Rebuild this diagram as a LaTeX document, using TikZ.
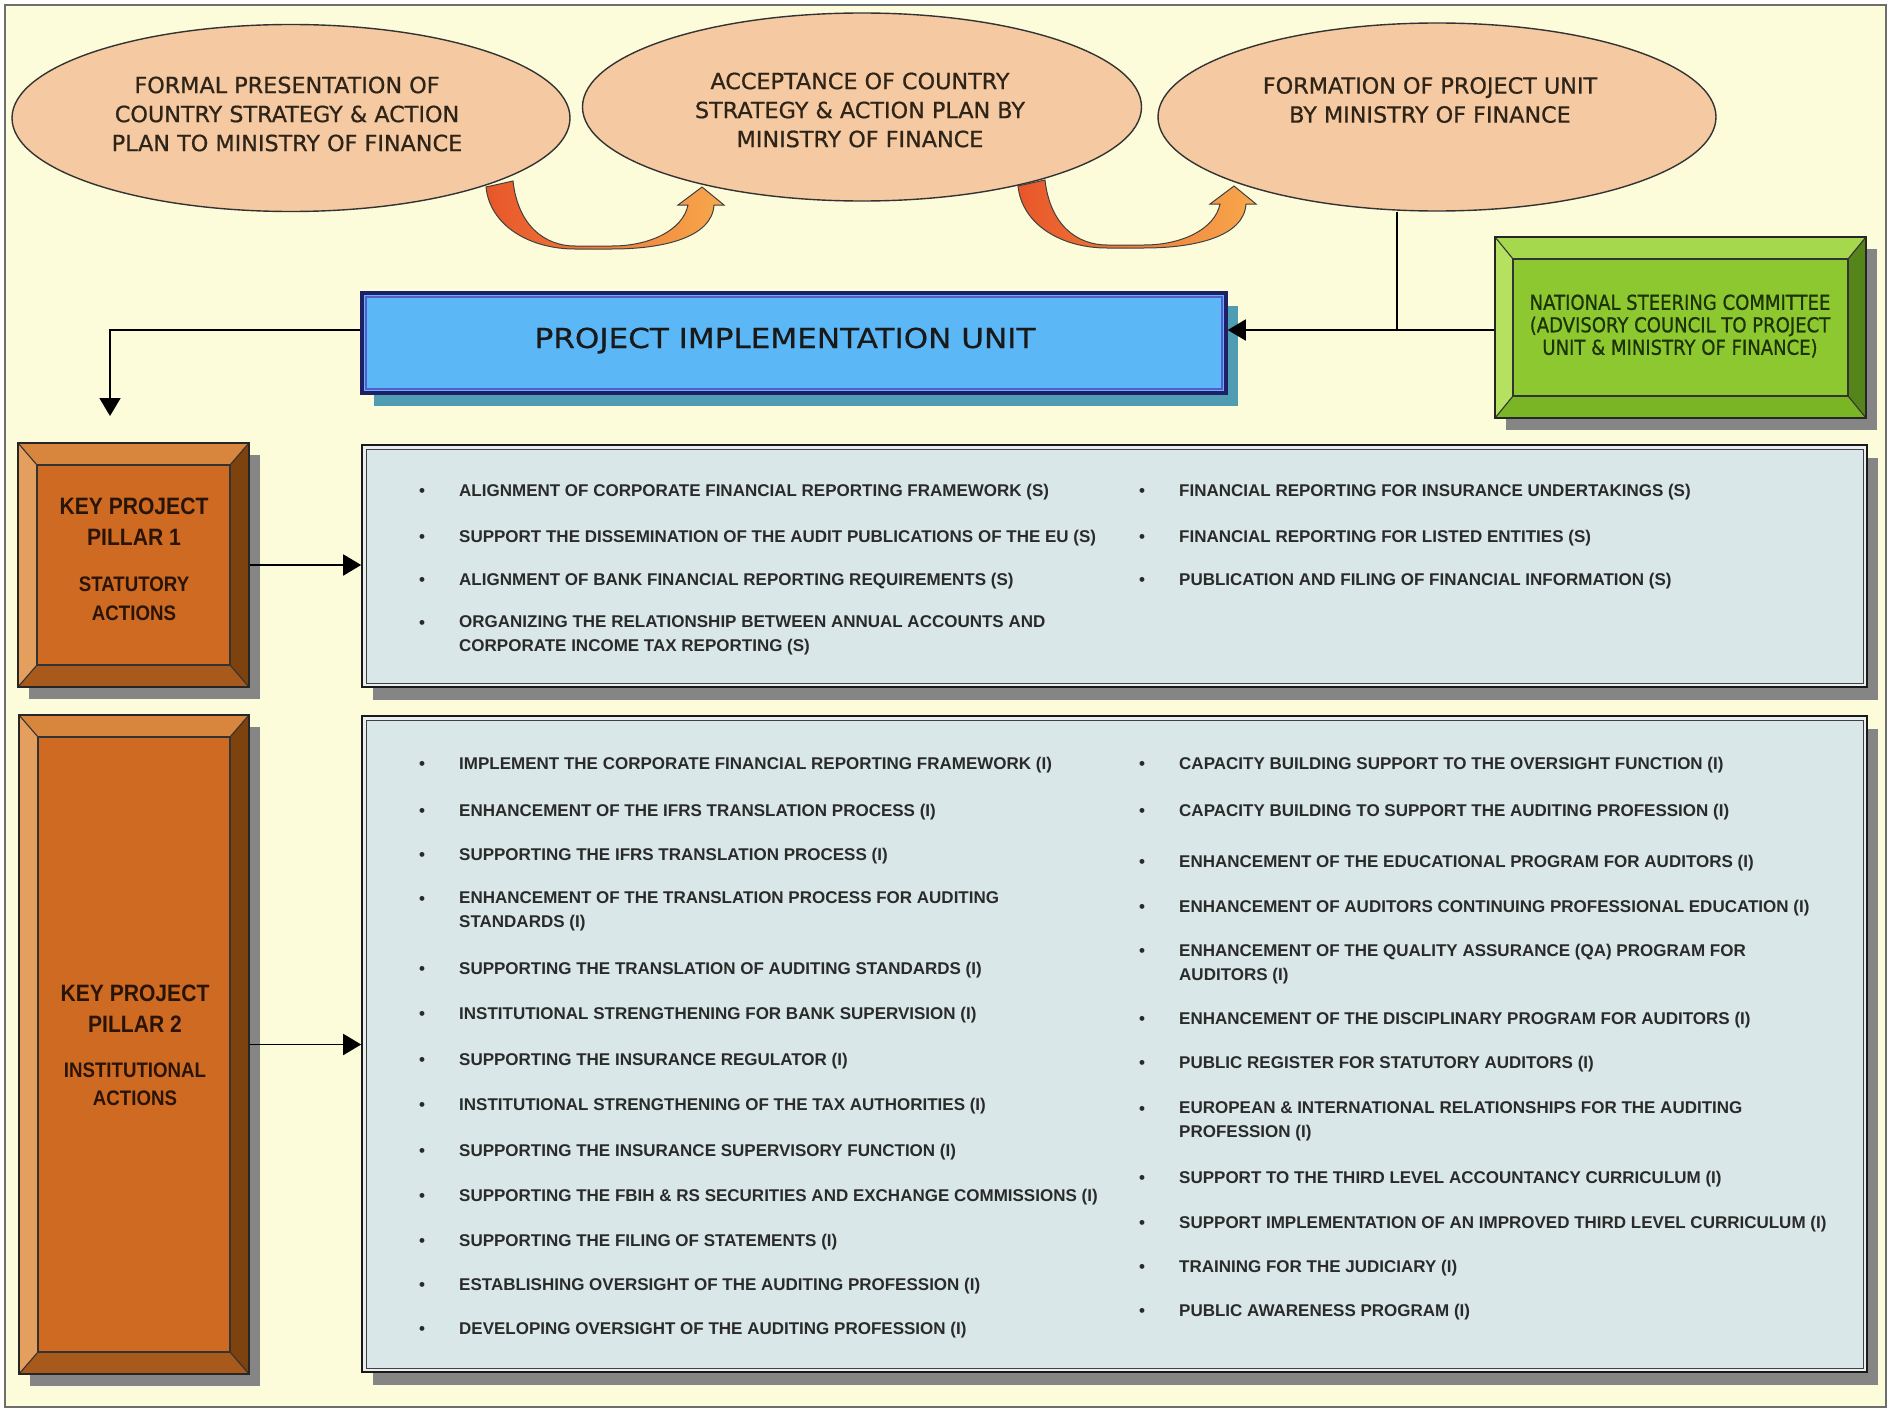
\documentclass[tikz,border=0pt]{standalone}
\usepackage{fontspec}
\setmainfont{Liberation Sans}
\newfontfamily\elfont{DejaVu Sans}[FakeBold=0.7]
\newfontfamily\piufont{DejaVu Sans}[FakeStretch=1.13,FakeBold=0.6]
\newfontfamily\nscfont{DejaVu Sans}[FakeStretch=0.88,FakeBold=0.8]
\newfontfamily\pilfont{Liberation Sans}[FakeStretch=0.89]
\usetikzlibrary{shapes.geometric,arrows.meta,fit}
\definecolor{bg}{HTML}{FCFCDB}
\definecolor{framec}{HTML}{6E6E6E}
\definecolor{ellc}{HTML}{F5C9A2}
\definecolor{eltc}{HTML}{2E2418}
\definecolor{piuc}{HTML}{5CB7F7}
\definecolor{piub}{HTML}{1F1F66}
\definecolor{piui}{HTML}{5A5ACF}
\definecolor{piush}{HTML}{4F9DB3}
\definecolor{shadowc}{HTML}{858585}
\definecolor{lboxc}{HTML}{D9E7E8}
\definecolor{lgap}{HTML}{E9EFEF}
\definecolor{itc}{HTML}{2A2A2A}
\definecolor{pilface}{HTML}{CF6A22}
\definecolor{piltop}{HTML}{D8853E}
\definecolor{pilleft}{HTML}{E49E5E}
\definecolor{pilright}{HTML}{7E420F}
\definecolor{pilbot}{HTML}{A85A1C}
\definecolor{pilt}{HTML}{2A1406}
\definecolor{nscface}{HTML}{8DC830}
\definecolor{nsctop}{HTML}{A5D84C}
\definecolor{nscleft}{HTML}{B6E160}
\definecolor{nscright}{HTML}{55841A}
\definecolor{nscbot}{HTML}{7AB526}
\definecolor{nsct}{HTML}{1C3305}
\definecolor{arrL}{HTML}{E8562A}
\definecolor{arrR}{HTML}{F7A84C}
\newcounter{itno}
\newcommand\litem[3]{\stepcounter{itno}%
  \node[bul] (b\arabic{itno}) at (#1-37,#2+6) {\textbullet};
  \node[itm] (t\arabic{itno}) at (#1,#2-6.2) {#3};}
\newcommand\bevelbox[8]{%
  \fill[shadowc] (#2+11,#3+12) rectangle (#4+11,#5+12);
  \fill[#8face] (#2+#6,#3+#7) rectangle (#4-#6,#5-#7);
  \fill[#8top] (#2,#3) -- (#4,#3) -- (#4-#6,#3+#7) -- (#2+#6,#3+#7) -- cycle;
  \fill[#8left] (#2,#3) -- (#2+#6,#3+#7) -- (#2+#6,#5-#7) -- (#2,#5) -- cycle;
  \fill[#8right] (#4,#3) -- (#4,#5) -- (#4-#6,#5-#7) -- (#4-#6,#3+#7) -- cycle;
  \fill[#8bot] (#2,#5) -- (#4,#5) -- (#4-#6,#5-#7) -- (#2+#6,#5-#7) -- cycle;
  \draw[bevline] (#2+#6,#3+#7) rectangle (#4-#6,#5-#7);
  \draw[bevline] (#2,#3) -- (#2+#6,#3+#7) (#4,#3) -- (#4-#6,#3+#7)
                 (#2,#5) -- (#2+#6,#5-#7) (#4,#5) -- (#4-#6,#5-#7);
  \node[fit={(#2,#3) (#4,#5)}, inner sep=0, draw=black!85, line width=1.6pt] (#1) {};}
\newcommand\curvearrow{%
  \path[draw=black!75, line width=1pt, left color=arrL, right color=arrR]
    (486,187) .. controls (490,226) and (530,249) .. (575,249)
    -- (612,249) .. controls (662,249) and (712,238) .. (714,205)
    -- (724,205) -- (702,187) -- (678,205) -- (688,205)
    .. controls (683,230) and (650,246) .. (612,246)
    -- (575,246) .. controls (545,246) and (518,226) .. (513,181) -- cycle;}
\begin{document}
\begin{tikzpicture}[x=1pt,y=-1pt,
  ell/.style={ellipse, draw=black!80, line width=1.4pt, fill=ellc, inner sep=0},
  eltxt/.style={font=\elfont\fontsize{22.3}{29}\selectfont, text=eltc, align=center, inner sep=0},
  nsctxt/.style={font=\nscfont\fontsize{20.5}{22.5}\selectfont, text=nsct, align=center, inner sep=0},
  ptit/.style={font=\pilfont\bfseries\fontsize{23.7}{31}\selectfont, text=pilt, align=center, inner sep=0},
  psub/.style={font=\pilfont\bfseries\fontsize{21}{28.5}\selectfont, text=pilt, align=center, inner sep=0},
  itm/.style={anchor=north west, inner sep=0, font=\bfseries\fontsize{17}{24}\selectfont, text=itc, align=left},
  bul/.style={anchor=base, inner sep=0, font=\bfseries\fontsize{17}{24}\selectfont, text=itc},
  bevline/.style={draw=black!80, line width=1.1pt},
  conn/.style={draw=black, line width=1.8pt},
  tip/.style={-{Triangle[length=18pt,width=21pt]}}
]
\useasboundingbox (0,0) rectangle (1891,1410);
\fill[white] (0,0) rectangle (1891,1410);
\filldraw[fill=bg, draw=framec, line width=2pt] (5,5) rectangle (1886,1407);

% ellipses
\node[ell, minimum width=558pt, minimum height=187pt] (e1) at (291,118) {};
\node[ell, minimum width=559pt, minimum height=188pt] (e2) at (862,107) {};
\node[ell, minimum width=558pt, minimum height=188pt] (e3) at (1437,117) {};
\node[eltxt] (e1t) at (287,114) {FORMAL PRESENTATION OF\\COUNTRY STRATEGY \& ACTION\\PLAN TO MINISTRY OF FINANCE};
\node[eltxt] (e2t) at (860,110) {ACCEPTANCE OF COUNTRY\\STRATEGY \& ACTION PLAN BY\\MINISTRY OF FINANCE};
\node[eltxt] (e3t) at (1430,100) {FORMATION OF PROJECT UNIT\\BY MINISTRY OF FINANCE};

% curved arrows
\curvearrow
\begin{scope}[shift={(532,-1)}]
\curvearrow
\end{scope}

% project implementation unit
\fill[piush] (374,306) rectangle (1238,406);
\node[fit={(362,293) (1226,393)}, inner sep=0, fill=piuc, draw=piub, line width=3.5pt] (piu) {};
\draw[piui, line width=1.8pt] (366,297) rectangle (1222,389);
\node[font=\piufont\fontsize{27.5}{30}\selectfont, text=black!90, inner sep=0, anchor=base] (piut) at (785,348) {PROJECT IMPLEMENTATION UNIT};

% national steering committee
\bevelbox{nsc}{1495}{237}{1866}{418}{18}{22}{nsc}
\node[nsctxt] (nsct) at (1680,326) {NATIONAL STEERING COMMITTEE\\(ADVISORY COUNCIL TO PROJECT\\UNIT \& MINISTRY OF FINANCE)};

% pillars
\bevelbox{p1}{18}{443}{249}{687}{19}{22}{pil}
\bevelbox{p2}{19}{715}{249}{1374}{19}{22}{pil}
\node[ptit] (p1a) at (134,521.5) {KEY PROJECT\\PILLAR 1};
\node[psub] (p1b) at (134,599) {STATUTORY\\ACTIONS};
\node[ptit] (p2a) at (135,1009) {KEY PROJECT\\PILLAR 2};
\node[psub] (p2b) at (135,1084.5) {INSTITUTIONAL\\ACTIONS};

% list boxes
\fill[shadowc] (373,458) rectangle (1878,700);
\node[fit={(362,445) (1867,687)}, inner sep=0, fill=lgap, draw=black!90, line width=1.6pt] (l1) {};
\draw[draw=black!75, line width=1pt, fill=lboxc] (366,449) rectangle (1863,683);
\fill[shadowc] (373,729) rectangle (1878,1385);
\node[fit={(362,716) (1867,1372)}, inner sep=0, fill=lgap, draw=black!90, line width=1.6pt] (l2) {};
\draw[draw=black!75, line width=1pt, fill=lboxc] (366,720) rectangle (1863,1368);

% connectors
\coordinate (jn) at (1397,330);
\coordinate (pl) at (110,330);
\coordinate (pd) at (110,416);
\draw[draw=black, line width=1.2pt] (e3.south -| jn) -- (jn);
\draw[conn,tip] (nsc.west |- jn) -- (piu.east |- jn);
\draw[conn,tip] (piu.west |- pl) -- (pl) -- (pd);
\draw[conn,tip] (p1.east) -- (l1.west |- p1.east);
\draw[conn,tip] (p2.east) -- (l2.west |- p2.east);

% pillar 1 items
\litem{459}{490}{ALIGNMENT OF CORPORATE FINANCIAL REPORTING FRAMEWORK (S)}
\litem{459}{536}{SUPPORT THE DISSEMINATION OF THE AUDIT PUBLICATIONS OF THE EU (S)}
\litem{459}{579}{ALIGNMENT OF BANK FINANCIAL REPORTING REQUIREMENTS (S)}
\litem{459}{622}{ORGANIZING THE RELATIONSHIP BETWEEN ANNUAL ACCOUNTS AND\\CORPORATE INCOME TAX REPORTING (S)}
\litem{1179}{490}{FINANCIAL REPORTING FOR INSURANCE UNDERTAKINGS (S)}
\litem{1179}{536}{FINANCIAL REPORTING FOR LISTED ENTITIES (S)}
\litem{1179}{579}{PUBLICATION AND FILING OF FINANCIAL INFORMATION (S)}

% pillar 2 items, left
\litem{459}{763}{IMPLEMENT THE CORPORATE FINANCIAL REPORTING FRAMEWORK (I)}
\litem{459}{810}{ENHANCEMENT OF THE IFRS TRANSLATION PROCESS (I)}
\litem{459}{854}{SUPPORTING THE IFRS TRANSLATION PROCESS (I)}
\litem{459}{898}{ENHANCEMENT OF THE TRANSLATION PROCESS FOR AUDITING\\STANDARDS (I)}
\litem{459}{968}{SUPPORTING THE TRANSLATION OF AUDITING STANDARDS (I)}
\litem{459}{1013}{INSTITUTIONAL STRENGTHENING FOR BANK SUPERVISION (I)}
\litem{459}{1059}{SUPPORTING THE INSURANCE REGULATOR (I)}
\litem{459}{1104}{INSTITUTIONAL STRENGTHENING OF THE TAX AUTHORITIES (I)}
\litem{459}{1150}{SUPPORTING THE INSURANCE SUPERVISORY FUNCTION (I)}
\litem{459}{1195}{SUPPORTING THE FBIH \& RS SECURITIES AND EXCHANGE COMMISSIONS (I)}
\litem{459}{1240}{SUPPORTING THE FILING OF STATEMENTS (I)}
\litem{459}{1284}{ESTABLISHING OVERSIGHT OF THE AUDITING PROFESSION (I)}
\litem{459}{1328}{DEVELOPING OVERSIGHT OF THE AUDITING PROFESSION (I)}

% pillar 2 items, right
\litem{1179}{763}{CAPACITY BUILDING SUPPORT TO THE OVERSIGHT FUNCTION (I)}
\litem{1179}{810}{CAPACITY BUILDING TO SUPPORT THE AUDITING PROFESSION (I)}
\litem{1179}{861}{ENHANCEMENT OF THE EDUCATIONAL PROGRAM FOR AUDITORS (I)}
\litem{1179}{906}{ENHANCEMENT OF AUDITORS CONTINUING PROFESSIONAL EDUCATION (I)}
\litem{1179}{950}{ENHANCEMENT OF THE QUALITY ASSURANCE (QA) PROGRAM FOR\\AUDITORS (I)}
\litem{1179}{1018}{ENHANCEMENT OF THE DISCIPLINARY PROGRAM FOR AUDITORS (I)}
\litem{1179}{1062}{PUBLIC REGISTER FOR STATUTORY AUDITORS (I)}
\litem{1179}{1108}{EUROPEAN \& INTERNATIONAL RELATIONSHIPS FOR THE AUDITING\\PROFESSION (I)}
\litem{1179}{1177}{SUPPORT TO THE THIRD LEVEL ACCOUNTANCY CURRICULUM (I)}
\litem{1179}{1222}{SUPPORT IMPLEMENTATION OF AN IMPROVED THIRD LEVEL CURRICULUM (I)}
\litem{1179}{1266}{TRAINING FOR THE JUDICIARY (I)}
\litem{1179}{1310}{PUBLIC AWARENESS PROGRAM (I)}
\end{tikzpicture}
\end{document}
